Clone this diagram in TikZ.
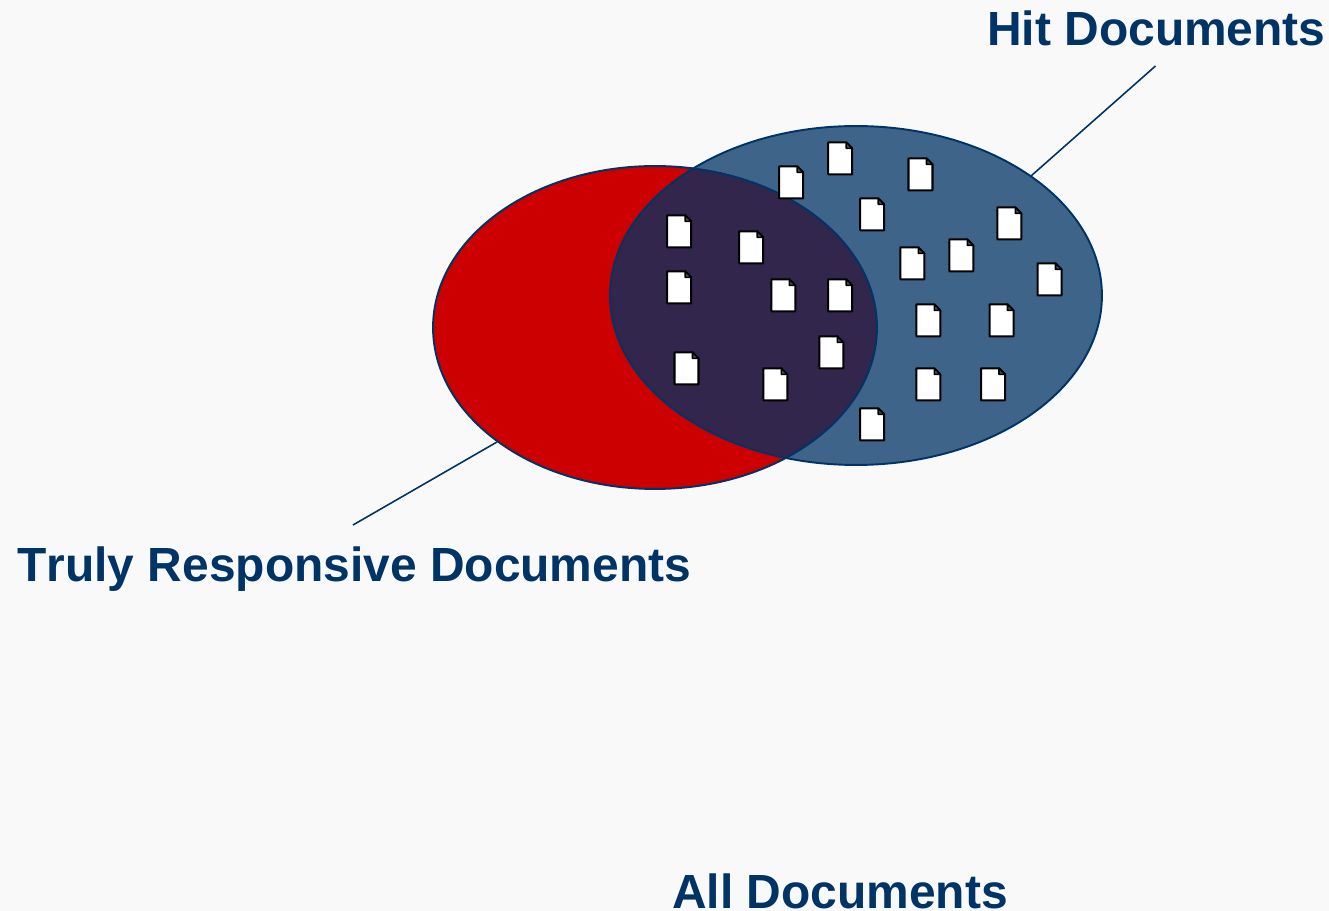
\documentclass[tikz,border=0pt]{standalone}
\usepackage{fontspec}
\setmainfont[Kerning=Off]{Liberation Sans}
\usetikzlibrary{shapes.geometric}
\definecolor{navy}{HTML}{003366}
\definecolor{setred}{HTML}{CC0000}
\definecolor{paper}{HTML}{F9F9F9}
\tikzset{
	setshape/.style={ellipse,draw=navy,line width=1.1pt,inner sep=0pt},
	caption/.style={anchor=base west,inner sep=0pt,text=navy,font=\fontsize{27.28}{30}\selectfont\bfseries},
	leader/.style={draw=navy,line width=0.9pt},
	docicon/.pic={
		\draw[fill=white,line width=1.15pt,line join=round] (-12,-16) -- (6,-16) -- (12,-10) -- (12,16) -- (-12,16) -- cycle;
		\draw[fill=black!70,line width=0.9pt,line join=round] (6,-16) -- (6,-10) -- (12,-10) -- cycle;
	}
}
\begin{document}
\begin{tikzpicture}[x=0.02cm,y=-0.02cm]
	\path[fill=paper] (0,0) rectangle (1329,911);
	\useasboundingbox (0,0) rectangle (1329,911);

	\node[setshape,fill=setred,minimum width=8.88cm,minimum height=6.46cm] (truly) at (655,327.5) {};
	\node[setshape,fill=navy,fill opacity=0.75,minimum width=9.84cm,minimum height=6.78cm] (hit) at (856,295.5) {};

	\foreach \x/\y in {791.2/182.3,840.2/158.3,920.5/174.3,872.2/214.3,1009.3/223.3,961.3/255.3,912.3/263.3,1049.5/279.3,
		679.2/231.3,751.2/247.3,679.2/287.3,783.3/295.3,840.2/295.3,831.3/352.3,686.5/368.3,775.3/384.3,
		928.3/320.3,1001.5/320.3,928.3/384.3,993/384.3,872.2/424.3}
		\pic at (\x,\y) {docicon};

	\node[caption] (hitlabel) at (987,46) {Hit Documents};
	\node[caption] (trulylabel) at (17,582) {Truly Responsive Documents};
	\node[caption] (alllabel) at (672,908) {All Documents};

	\coordinate (hittop) at (1155.5,66);
	\coordinate (hitedge) at (1031,176);
	\coordinate (trulyend) at (353,525);
	\coordinate (trulyedge) at (497,442);

	\draw[leader] (hittop) -- (hitedge);
	\draw[leader] (trulyend) -- (trulyedge);
\end{tikzpicture}
\end{document}
